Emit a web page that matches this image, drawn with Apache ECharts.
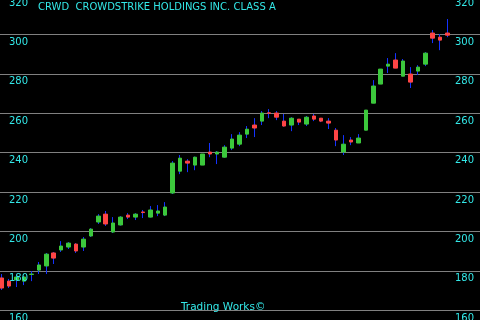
<!DOCTYPE html>
<html><head><meta charset="utf-8">
<script src="https://cdn.jsdelivr.net/npm/echarts@6/dist/echarts.min.js"></script>
<style>html,body{margin:0;padding:0;background:#000;}#c{width:480px;height:320px;}</style>
</head><body><div id="c"></div>
<script>
const titleText = 'CRWD  CROWDSTRIKE HOLDINGS INC. CLASS A';
const footerText = 'Trading Works\u00A9';
const yTicks = [160, 180, 200, 220, 240, 260, 280, 300, 320];
const openP  = [176.4,174.8,175.4,174.8,178.2,180.4,182.5,189.1,190.6,192.1,193.6,192.1,197.7,204.8,208.8,199.7,203.3,208.3,207.3,209.9,207.3,209.3,208.3,219.5,230.6,235.7,233.7,233.7,240.3,239.3,237.7,242.3,244.3,249.4,254.0,256.0,260.2,260.1,256.0,254.0,257.0,254.5,258.6,257.5,256.0,251.4,240.3,246.4,244.9,251.4,265.1,274.8,283.9,287.0,278.8,279.9,281.4,284.9,300.7,298.6,300.7];
const closeP = [171.3,172.3,176.9,176.9,178.4,183.0,188.5,186.5,192.6,194.1,190.1,196.1,201.2,207.8,203.8,204.3,207.3,207.3,208.8,209.6,210.9,210.4,212.4,234.7,237.2,234.7,237.7,239.3,239.3,240.3,242.8,246.9,248.9,251.9,252.5,260.1,260.0,258.0,253.5,257.5,255.5,258.0,257.0,256.0,255.0,246.4,244.3,245.4,247.4,261.6,273.8,282.4,284.9,282.9,286.5,275.8,283.4,290.5,298.1,297.1,299.6];
const lowP   = [170.3,171.3,171.8,172.8,174.8,178.4,178.4,183.5,189.6,191.1,189.1,190.1,197.2,203.8,202.8,199.2,203.0,206.3,205.8,206.8,207.1,207.8,207.8,219.0,229.1,230.1,231.1,233.7,237.7,234.2,237.5,241.3,243.3,247.4,247.9,254.0,257.5,256.5,253.2,250.9,254.0,253.5,256.0,255.5,252.0,243.3,238.8,243.8,244.9,251.4,265.1,274.8,280.4,282.9,278.8,272.8,279.4,283.9,295.6,292.0,298.6];
const highP  = [178.4,175.9,177.9,177.4,179.9,184.5,189.1,189.6,195.1,194.6,194.1,197.2,201.7,208.8,210.4,207.3,207.8,209.3,209.3,210.9,212.9,213.4,214.9,235.7,238.8,236.7,238.0,239.3,244.9,240.8,243.8,249.4,250.4,253.5,257.5,261.1,262.1,261.1,259.6,258.0,257.0,258.6,259.6,257.5,257.5,252.5,248.9,247.9,249.4,261.6,276.8,282.4,288.0,290.5,287.5,283.4,284.4,291.0,302.2,300.2,307.8];
const emptySlots = 4;

const n = openP.length;
const cats = [];
for (let i = 0; i < n + emptySlots; i++) cats.push(String(i + 1));
const wickData = openP.map((o, i) => [o, closeP[i], lowP[i], highP[i]]);
const bodyData = openP.map((o, i) => [o, closeP[i], Math.min(o, closeP[i]), Math.max(o, closeP[i])]);

const CYAN = '#33e8e8';
const FONT = 'DejaVu Sans';
const chart = echarts.init(document.getElementById('c'), null, {renderer: 'canvas'});
const yBase = {type: 'value', min: yTicks[0], max: yTicks[yTicks.length - 1], interval: 20,
  axisLine: {show: false}, axisTick: {show: false}};
chart.setOption({
  backgroundColor: '#000',
  animation: false,
  grid: {left: -2, right: -1, top: -5, bottom: 9.7, containLabel: false, outerBoundsMode: 'none'},
  title: [
    {text: titleText, left: 33, top: -3, textStyle: {color: CYAN, fontFamily: FONT, fontSize: 10, fontWeight: 'normal'}},
    {text: footerText, left: 176, top: 297, textStyle: {color: CYAN, fontFamily: FONT, fontSize: 10.5, fontWeight: 'normal'}}
  ],
  xAxis: {type: 'category', data: cats, boundaryGap: true, axisLine: {show: false}, axisTick: {show: false}, axisLabel: {show: false}, splitLine: {show: false}},
  yAxis: [
    Object.assign({}, yBase, {position: 'left', axisLabel: {show: false}, splitLine: {show: true, lineStyle: {color: '#808080', width: 1}}}),
    Object.assign({}, yBase, {position: 'left', z: 10, splitLine: {show: false},
      axisLabel: {inside: true, margin: 11, align: 'left', verticalAlign: 'top', padding: [3, 0, 0, 0], color: CYAN, fontFamily: FONT, fontSize: 10, showMinLabel: true, showMaxLabel: true}}),
    Object.assign({}, yBase, {position: 'right', z: 10, splitLine: {show: false},
      axisLabel: {inside: true, margin: 7, align: 'right', verticalAlign: 'top', padding: [3, 0, 0, 0], color: CYAN, fontFamily: FONT, fontSize: 10, showMinLabel: true, showMaxLabel: true}})
  ],
  series: [
    {type: 'candlestick', data: wickData, yAxisIndex: 0, barWidth: 1,
      itemStyle: {color: '#1432ff', color0: '#1432ff', borderColor: '#1432ff', borderColor0: '#1432ff', borderWidth: 1}},
    {type: 'candlestick', data: bodyData, yAxisIndex: 0, barWidth: 4,
      itemStyle: {color: '#3cc83c', color0: '#ff4545', borderColor: '#3cc83c', borderColor0: '#ff4545', borderWidth: 1}}
  ]
});
</script></body></html>
